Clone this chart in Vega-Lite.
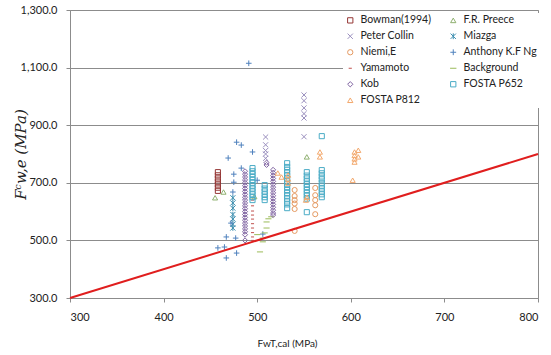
{
  "$schema": "https://vega.github.io/schema/vega-lite/v6.json",
  "width": 468,
  "height": 288,
  "autosize": {"type": "none"},
  "padding": {"left": 70, "top": 10, "right": 13, "bottom": 57},
  "background": "white",
  "config": {
    "view": {"stroke": "#8c8c8c", "strokeWidth": 1},
    "font": "Lato",
    "axis": {"labelFont": "Lato", "labelFontSize": 11, "labelColor": "#222", "domainColor": "#8c8c8c", "tickColor": "#8c8c8c", "gridColor": "#8c8c8c", "tickSize": 4}
  },
  "datasets": {
    "pts": [
      {"s": "Bowman(1994)", "x": 458, "y": 672}, {"s": "Bowman(1994)", "x": 458, "y": 683}, {"s": "Bowman(1994)", "x": 458, "y": 694}, {"s": "Bowman(1994)", "x": 458, "y": 704}, {"s": "Bowman(1994)", "x": 458, "y": 715}, {"s": "Bowman(1994)", "x": 458, "y": 726}, {"s": "Bowman(1994)", "x": 458, "y": 737},
      {"s": "F.R. Preece", "x": 455, "y": 648}, {"s": "F.R. Preece", "x": 464, "y": 668}, {"s": "F.R. Preece", "x": 553, "y": 790}, {"s": "F.R. Preece", "x": 497, "y": 652},
      {"s": "Peter Collin", "x": 509, "y": 859}, {"s": "Peter Collin", "x": 509, "y": 832}, {"s": "Peter Collin", "x": 509, "y": 812}, {"s": "Peter Collin", "x": 509, "y": 800}, {"s": "Peter Collin", "x": 509, "y": 785}, {"s": "Peter Collin", "x": 550, "y": 1005}, {"s": "Peter Collin", "x": 550, "y": 985}, {"s": "Peter Collin", "x": 550, "y": 960}, {"s": "Peter Collin", "x": 550, "y": 940}, {"s": "Peter Collin", "x": 550, "y": 925}, {"s": "Peter Collin", "x": 550, "y": 860},
      {"s": "Miazga", "x": 474, "y": 648}, {"s": "Miazga", "x": 474, "y": 630}, {"s": "Miazga", "x": 474, "y": 612}, {"s": "Miazga", "x": 474, "y": 590}, {"s": "Miazga", "x": 474, "y": 574}, {"s": "Miazga", "x": 474, "y": 556}, {"s": "Miazga", "x": 474, "y": 543},
      {"s": "Niemi,E", "x": 540, "y": 675}, {"s": "Niemi,E", "x": 540, "y": 654}, {"s": "Niemi,E", "x": 540, "y": 640}, {"s": "Niemi,E", "x": 540, "y": 628}, {"s": "Niemi,E", "x": 540, "y": 609}, {"s": "Niemi,E", "x": 540, "y": 533}, {"s": "Niemi,E", "x": 562, "y": 682}, {"s": "Niemi,E", "x": 562, "y": 657}, {"s": "Niemi,E", "x": 562, "y": 640}, {"s": "Niemi,E", "x": 562, "y": 622}, {"s": "Niemi,E", "x": 562, "y": 591},
      {"s": "Anthony K.F Ng", "x": 478, "y": 841}, {"s": "Anthony K.F Ng", "x": 483, "y": 831}, {"s": "Anthony K.F Ng", "x": 495, "y": 807}, {"s": "Anthony K.F Ng", "x": 469, "y": 786}, {"s": "Anthony K.F Ng", "x": 483, "y": 751}, {"s": "Anthony K.F Ng", "x": 475, "y": 730}, {"s": "Anthony K.F Ng", "x": 475, "y": 702}, {"s": "Anthony K.F Ng", "x": 474, "y": 668}, {"s": "Anthony K.F Ng", "x": 500, "y": 709}, {"s": "Anthony K.F Ng", "x": 467, "y": 512}, {"s": "Anthony K.F Ng", "x": 477, "y": 508}, {"s": "Anthony K.F Ng", "x": 458, "y": 474}, {"s": "Anthony K.F Ng", "x": 465, "y": 477}, {"s": "Anthony K.F Ng", "x": 478, "y": 456}, {"s": "Anthony K.F Ng", "x": 467, "y": 439}, {"s": "Anthony K.F Ng", "x": 506, "y": 522}, {"s": "Anthony K.F Ng", "x": 491, "y": 1115}, {"s": "Anthony K.F Ng", "x": 472, "y": 560},
      {"s": "Yamamoto", "x": 495, "y": 640}, {"s": "Yamamoto", "x": 495, "y": 620}, {"s": "Yamamoto", "x": 495, "y": 602}, {"s": "Yamamoto", "x": 495, "y": 588}, {"s": "Yamamoto", "x": 495, "y": 574}, {"s": "Yamamoto", "x": 495, "y": 558}, {"s": "Yamamoto", "x": 495, "y": 543}, {"s": "Yamamoto", "x": 495, "y": 527}, {"s": "Yamamoto", "x": 495, "y": 512}, {"s": "Yamamoto", "x": 495, "y": 500},
      {"s": "Background", "x": 512, "y": 575}, {"s": "Background", "x": 510, "y": 564}, {"s": "Background", "x": 510, "y": 543}, {"s": "Background", "x": 508, "y": 526}, {"s": "Background", "x": 506, "y": 508}, {"s": "Background", "x": 503, "y": 460}, {"s": "Background", "x": 515, "y": 582}, {"s": "Background", "x": 506, "y": 495}, {"s": "Background", "x": 500, "y": 520},
      {"s": "Kob", "x": 487, "y": 740}, {"s": "Kob", "x": 487, "y": 730}, {"s": "Kob", "x": 487, "y": 720}, {"s": "Kob", "x": 487, "y": 710}, {"s": "Kob", "x": 487, "y": 700}, {"s": "Kob", "x": 487, "y": 690}, {"s": "Kob", "x": 487, "y": 680}, {"s": "Kob", "x": 487, "y": 670}, {"s": "Kob", "x": 487, "y": 660}, {"s": "Kob", "x": 487, "y": 650}, {"s": "Kob", "x": 487, "y": 640}, {"s": "Kob", "x": 487, "y": 630}, {"s": "Kob", "x": 487, "y": 620}, {"s": "Kob", "x": 487, "y": 610}, {"s": "Kob", "x": 487, "y": 600}, {"s": "Kob", "x": 487, "y": 590}, {"s": "Kob", "x": 487, "y": 580}, {"s": "Kob", "x": 487, "y": 570}, {"s": "Kob", "x": 487, "y": 560}, {"s": "Kob", "x": 487, "y": 550}, {"s": "Kob", "x": 487, "y": 540}, {"s": "Kob", "x": 487, "y": 530}, {"s": "Kob", "x": 487, "y": 520}, {"s": "Kob", "x": 487, "y": 500},
      {"s": "Kob", "x": 517, "y": 745}, {"s": "Kob", "x": 517, "y": 735}, {"s": "Kob", "x": 517, "y": 725}, {"s": "Kob", "x": 517, "y": 715}, {"s": "Kob", "x": 517, "y": 705}, {"s": "Kob", "x": 517, "y": 695}, {"s": "Kob", "x": 517, "y": 685}, {"s": "Kob", "x": 517, "y": 675}, {"s": "Kob", "x": 517, "y": 665}, {"s": "Kob", "x": 517, "y": 655}, {"s": "Kob", "x": 517, "y": 645}, {"s": "Kob", "x": 517, "y": 635}, {"s": "Kob", "x": 517, "y": 625}, {"s": "Kob", "x": 517, "y": 615}, {"s": "Kob", "x": 517, "y": 605}, {"s": "Kob", "x": 517, "y": 595}, {"s": "Kob", "x": 517, "y": 588}, {"s": "Kob", "x": 510, "y": 770}, {"s": "Kob", "x": 510, "y": 762},
      {"s": "FOSTA P652", "x": 495, "y": 751}, {"s": "FOSTA P652", "x": 495, "y": 740}, {"s": "FOSTA P652", "x": 495, "y": 730}, {"s": "FOSTA P652", "x": 495, "y": 720}, {"s": "FOSTA P652", "x": 495, "y": 710}, {"s": "FOSTA P652", "x": 495, "y": 700}, {"s": "FOSTA P652", "x": 495, "y": 690}, {"s": "FOSTA P652", "x": 495, "y": 680}, {"s": "FOSTA P652", "x": 495, "y": 670}, {"s": "FOSTA P652", "x": 495, "y": 660}, {"s": "FOSTA P652", "x": 495, "y": 650}, {"s": "FOSTA P652", "x": 495, "y": 640},
      {"s": "FOSTA P652", "x": 508, "y": 692}, {"s": "FOSTA P652", "x": 508, "y": 680}, {"s": "FOSTA P652", "x": 508, "y": 670}, {"s": "FOSTA P652", "x": 508, "y": 660}, {"s": "FOSTA P652", "x": 508, "y": 650}, {"s": "FOSTA P652", "x": 508, "y": 640},
      {"s": "FOSTA P652", "x": 532, "y": 768}, {"s": "FOSTA P652", "x": 532, "y": 755}, {"s": "FOSTA P652", "x": 532, "y": 745}, {"s": "FOSTA P652", "x": 532, "y": 735}, {"s": "FOSTA P652", "x": 532, "y": 725}, {"s": "FOSTA P652", "x": 532, "y": 715}, {"s": "FOSTA P652", "x": 532, "y": 705}, {"s": "FOSTA P652", "x": 532, "y": 695}, {"s": "FOSTA P652", "x": 532, "y": 685}, {"s": "FOSTA P652", "x": 532, "y": 675}, {"s": "FOSTA P652", "x": 532, "y": 665}, {"s": "FOSTA P652", "x": 532, "y": 655}, {"s": "FOSTA P652", "x": 532, "y": 645}, {"s": "FOSTA P652", "x": 532, "y": 635}, {"s": "FOSTA P652", "x": 532, "y": 625}, {"s": "FOSTA P652", "x": 532, "y": 612},
      {"s": "FOSTA P652", "x": 553, "y": 737}, {"s": "FOSTA P652", "x": 553, "y": 725}, {"s": "FOSTA P652", "x": 553, "y": 715}, {"s": "FOSTA P652", "x": 553, "y": 705}, {"s": "FOSTA P652", "x": 553, "y": 695}, {"s": "FOSTA P652", "x": 553, "y": 685}, {"s": "FOSTA P652", "x": 553, "y": 675}, {"s": "FOSTA P652", "x": 553, "y": 665}, {"s": "FOSTA P652", "x": 553, "y": 655}, {"s": "FOSTA P652", "x": 553, "y": 645}, {"s": "FOSTA P652", "x": 553, "y": 598},
      {"s": "FOSTA P652", "x": 569, "y": 862}, {"s": "FOSTA P652", "x": 569, "y": 744}, {"s": "FOSTA P652", "x": 569, "y": 733}, {"s": "FOSTA P652", "x": 569, "y": 722}, {"s": "FOSTA P652", "x": 569, "y": 712}, {"s": "FOSTA P652", "x": 569, "y": 700}, {"s": "FOSTA P652", "x": 569, "y": 690}, {"s": "FOSTA P652", "x": 569, "y": 680}, {"s": "FOSTA P652", "x": 569, "y": 670}, {"s": "FOSTA P652", "x": 569, "y": 660}, {"s": "FOSTA P652", "x": 569, "y": 650},
      {"s": "FOSTA P812", "x": 567, "y": 807}, {"s": "FOSTA P812", "x": 567, "y": 790}, {"s": "FOSTA P812", "x": 526, "y": 720}, {"s": "FOSTA P812", "x": 533, "y": 727}, {"s": "FOSTA P812", "x": 533, "y": 713}, {"s": "FOSTA P812", "x": 533, "y": 699}, {"s": "FOSTA P812", "x": 553, "y": 650}, {"s": "FOSTA P812", "x": 552, "y": 640}, {"s": "FOSTA P812", "x": 604, "y": 807}, {"s": "FOSTA P812", "x": 604, "y": 795}, {"s": "FOSTA P812", "x": 604, "y": 783}, {"s": "FOSTA P812", "x": 604, "y": 772}, {"s": "FOSTA P812", "x": 602, "y": 709}, {"s": "FOSTA P812", "x": 608, "y": 813}, {"s": "FOSTA P812", "x": 608, "y": 790}, {"s": "FOSTA P812", "x": 522, "y": 734}
    ],
    "line": [{"x": 300, "y": 300}, {"x": 800, "y": 800}]
  },
  "layer": [
    {
      "data": {"name": "pts"},
      "mark": {"type": "point", "filled": false, "size": 26, "opacity": 1},
      "encoding": {
        "x": {"field": "x", "type": "quantitative", "scale": {"domain": [300, 800], "nice": false},
          "axis": {"values": [300, 400, 500, 600, 700, 800], "format": "d", "grid": false, "labelPadding": 9, "title": "FwT,cal (MPa)", "titleFont": "Lato", "titleFontSize": 10, "titleFontWeight": "normal", "titleColor": "#222", "titleX": 217, "titleY": 45, "titleBaseline": "middle", "titleAlign": "center"}},
        "y": {"field": "y", "type": "quantitative", "scale": {"domain": [300, 1300], "nice": false},
          "axis": {"values": [300, 500, 700, 900, 1100, 1300], "format": ",.1f", "grid": true, "labelPadding": 9, "title": "Fᶜw,e (MPa)", "titleFont": "DejaVu Serif", "titleFontStyle": "italic", "titleFontSize": 15, "titleFontWeight": "normal", "titleColor": "#222", "titleX": -50, "titleY": 144, "titleAngle": -90, "titleAlign": "center", "titleBaseline": "middle"}},
        "color": {"field": "s", "type": "nominal",
          "scale": {"domain": ["Bowman(1994)", "Peter Collin", "Niemi,E", "Yamamoto", "Kob", "FOSTA P812", "F.R. Preece", "Miazga", "Anthony K.F Ng", "Background", "FOSTA P652"],
            "range": ["#953735", "#9A8FBE", "#E59A62", "#C0504D", "#8064A2", "#F3A86C", "#8FB070", "#3D8FB0", "#4F81BD", "#9BBB59", "#4BACC6"]},
          "legend": {"title": null, "orient": "none", "legendX": 273, "legendY": 3, "columns": 2, "columnPadding": 16, "rowPadding": 5, "labelFont": "Lato", "labelFontSize": 10.5, "labelColor": "#222", "symbolSize": 28, "fillColor": "white", "padding": 2, "labelOffset": 5}},
        "shape": {"field": "s", "type": "nominal",
          "scale": {"domain": ["Bowman(1994)", "Peter Collin", "Niemi,E", "Yamamoto", "Kob", "FOSTA P812", "F.R. Preece", "Miazga", "Anthony K.F Ng", "Background", "FOSTA P652"],
            "range": ["square", "M-1,-1L1,1M-1,1L1,-1", "circle", "M-0.6,0L0.6,0", "diamond", "triangle-up", "triangle-up", "M-1,-1L1,1M-1,1L1,-1M0,-1.1L0,1.1", "M-1.1,0L1.1,0M0,-1.1L0,1.1", "M-1.2,0L1.2,0", "square"]},
          "legend": {"title": null}},
        "strokeWidth": {"field": "s", "type": "nominal",
          "scale": {"domain": ["Bowman(1994)", "Peter Collin", "Niemi,E", "Yamamoto", "Kob", "FOSTA P812", "F.R. Preece", "Miazga", "Anthony K.F Ng", "Background", "FOSTA P652"],
            "range": [1, 1, 1, 2.5, 1, 1, 1, 1, 1, 2.5, 1]},
          "legend": {"title": null}}
      }
    },
    {
      "data": {"name": "line"},
      "mark": {"type": "line", "color": "#E01E1E", "strokeWidth": 2},
      "encoding": {
        "x": {"field": "x", "type": "quantitative"},
        "y": {"field": "y", "type": "quantitative"}
      }
    }
  ]
}
